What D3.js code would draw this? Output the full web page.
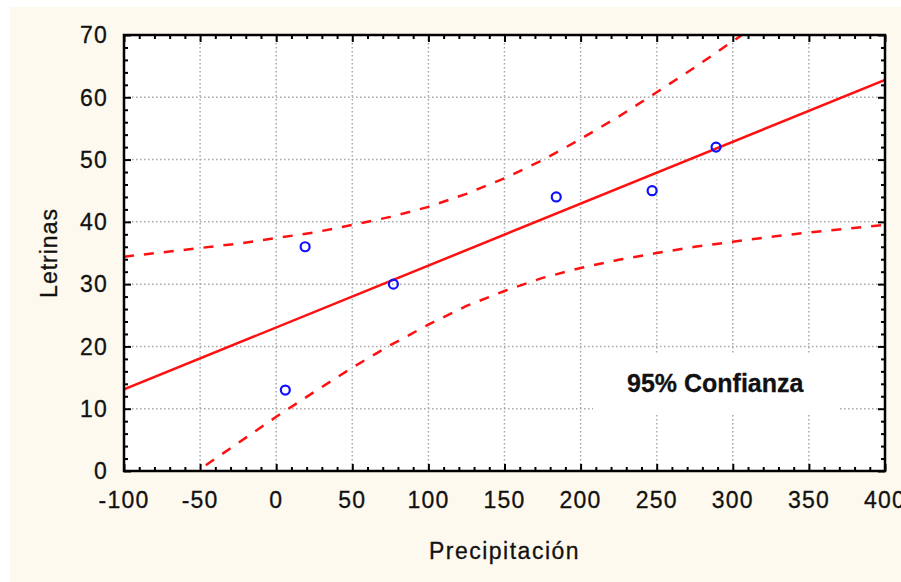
<!DOCTYPE html>
<html>
<head>
<meta charset="utf-8">
<script src="https://cdn.jsdelivr.net/npm/d3@7"></script>
<style>
    body { margin: 0; background: #ffffff; }
    svg { display: block; }
    text { font-family: "Liberation Sans", Arial, sans-serif; fill: #111111; }
</style>
</head>
<body>
<div id="chart"></div>
<script>
// Observed points
const precipitacion = [6, 19, 77, 184, 247, 289];
const letrinas = [13, 36, 30, 44, 45, 52];

// Fitted line, read at the plot edges
const fitX = [-100, 400];
const fitY = [13.1, 62.8];

// 95% band, read along x
const bandX = [-100, -75, -50, -25, 0, 25, 50, 75, 100, 125, 150, 175, 200, 225, 250, 275, 300, 325, 350, 375, 400];
const bandUpper = [34.4, 35.1, 35.8, 36.5, 37.4, 38.3, 39.5, 40.8, 42.4, 44.5, 47.0, 49.9, 53.3, 56.9, 60.8, 64.8, 69.0, 73.2, 77.5, 81.8, 86.1];
const bandLower = [-8.3, -3.9, 0.3, 4.5, 8.7, 12.7, 16.6, 20.2, 23.5, 26.5, 28.9, 31.0, 32.6, 33.9, 35.0, 36.0, 36.8, 37.6, 38.3, 38.9, 39.5];

const xTicks = [-100, -50, 0, 50, 100, 150, 200, 250, 300, 350, 400];
const yTicks = [0, 10, 20, 30, 40, 50, 60, 70];

const width = 901;
const height = 582;
const margin = { top: 35, right: 16, bottom: 111, left: 124 };
const innerW = width - margin.left - margin.right;
const innerH = height - margin.top - margin.bottom;

const svg = d3.select("#chart")
    .append("svg")
    .attr("width", width)
    .attr("height", height);

// cream background
svg.append("rect")
    .attr("x", 10).attr("y", 7)
    .attr("width", width - 10).attr("height", height - 7)
    .attr("fill", "#fdf9ef");

const g = svg.append("g")
    .attr("transform", `translate(${margin.left},${margin.top})`);

const xScale = d3.scaleLinear().domain([-100, 400]).range([0, innerW]);
const yScale = d3.scaleLinear().domain([0, 70]).range([innerH, 0]);

// plot area
g.append("rect")
    .attr("width", innerW).attr("height", innerH)
    .attr("fill", "#ffffff");

g.append("clipPath").attr("id", "clip")
    .append("rect").attr("width", innerW).attr("height", innerH);

// grid
g.append("g")
    .selectAll("line")
    .data(xTicks.slice(1, -1))
    .enter().append("line")
    .attr("x1", d => xScale(d)).attr("x2", d => xScale(d))
    .attr("y1", 0).attr("y2", innerH)
    .attr("stroke", "#a8a8a8")
    .attr("stroke-width", 1.5)
    .attr("stroke-dasharray", "1.5,2.5");

g.append("g")
    .selectAll("line")
    .data(yTicks.slice(1, -1))
    .enter().append("line")
    .attr("x1", 0).attr("x2", innerW)
    .attr("y1", d => yScale(d)).attr("y2", d => yScale(d))
    .attr("stroke", "#a8a8a8")
    .attr("stroke-width", 1.5)
    .attr("stroke-dasharray", "1.5,2.5");

// label box covers the grid
g.append("rect")
    .attr("x", 469).attr("y", 320)
    .attr("width", 247).attr("height", 60)
    .attr("fill", "#ffffff");

g.append("text")
    .attr("x", 503).attr("y", 357)
    .attr("font-size", 25)
    .attr("font-weight", "bold")
    .attr("stroke", "#111")
    .attr("stroke-width", 0.3)
    .text("95% Confianza");

// lines
const plot = g.append("g").attr("clip-path", "url(#clip)");

const bandLine = d3.line()
    .x((d, i) => xScale(bandX[i]))
    .y(d => yScale(d));

plot.append("path")
    .datum(bandUpper)
    .attr("fill", "none")
    .attr("stroke", "#ff1010")
    .attr("stroke-width", 2.5)
    .attr("stroke-dasharray", "10,10")
    .attr("d", bandLine);

plot.append("path")
    .datum(bandLower)
    .attr("fill", "none")
    .attr("stroke", "#ff1010")
    .attr("stroke-width", 2.5)
    .attr("stroke-dasharray", "10,10")
    .attr("d", bandLine);

plot.append("path")
    .datum(fitY)
    .attr("fill", "none")
    .attr("stroke", "#ff1010")
    .attr("stroke-width", 2.5)
    .attr("d", d3.line().x((d, i) => xScale(fitX[i])).y(d => yScale(d)));

// points
g.selectAll(".pt")
    .data(precipitacion)
    .enter().append("circle")
    .attr("class", "pt")
    .attr("cx", d => xScale(d))
    .attr("cy", (d, i) => yScale(letrinas[i]))
    .attr("r", 4.5)
    .attr("fill", "none")
    .attr("stroke", "#1010ff")
    .attr("stroke-width", 2.2);

// ticks on all four sides, pointing inward
const xMinor = d3.range(-100, 401, 10).filter(d => d % 50 !== 0);
const yMinor = d3.range(0, 71, 2).filter(d => d % 10 !== 0);

function tickAxis(axis, scale, major, minor, transform) {
    g.append("g")
        .attr("transform", transform)
        .call(axis(scale).tickValues(minor).tickSize(4).tickFormat(""))
        .call(a => a.select(".domain").remove())
        .selectAll("line").attr("stroke", "#000").attr("stroke-width", 2);
    g.append("g")
        .attr("transform", transform)
        .call(axis(scale).tickValues(major).tickSize(7).tickFormat(""))
        .call(a => a.select(".domain").remove())
        .selectAll("line").attr("stroke", "#000").attr("stroke-width", 2);
}

tickAxis(d3.axisTop, xScale, xTicks, xMinor, `translate(0,${innerH})`);
tickAxis(d3.axisBottom, xScale, xTicks, xMinor, "translate(0,0)");
tickAxis(d3.axisRight, yScale, yTicks, yMinor, "translate(0,0)");
tickAxis(d3.axisLeft, yScale, yTicks, yMinor, `translate(${innerW},0)`);

// frame
g.append("rect")
    .attr("width", innerW).attr("height", innerH)
    .attr("fill", "none")
    .attr("stroke", "#000")
    .attr("stroke-width", 2.5);

// tick labels
g.append("g")
    .selectAll("text")
    .data(xTicks)
    .enter().append("text")
    .attr("x", d => xScale(d))
    .attr("y", innerH + 37)
    .attr("text-anchor", "middle")
    .attr("font-size", 23)
    .attr("letter-spacing", 1.2)
    .attr("stroke", "#111")
    .attr("stroke-width", 0.3)
    .text(d => d);

g.append("g")
    .selectAll("text")
    .data(yTicks)
    .enter().append("text")
    .attr("x", -16)
    .attr("y", d => yScale(d))
    .attr("dy", "0.36em")
    .attr("text-anchor", "end")
    .attr("font-size", 23)
    .attr("letter-spacing", 1.2)
    .attr("stroke", "#111")
    .attr("stroke-width", 0.3)
    .text(d => d);

// axis titles
svg.append("text")
    .attr("x", margin.left + innerW / 2)
    .attr("y", 559)
    .attr("text-anchor", "middle")
    .attr("font-size", 23)
    .attr("letter-spacing", 1.5)
    .attr("stroke", "#111")
    .attr("stroke-width", 0.3)
    .text("Precipitación");

svg.append("text")
    .attr("transform", `translate(57,${margin.top + innerH / 2}) rotate(-90)`)
    .attr("text-anchor", "middle")
    .attr("font-size", 23)
    .attr("letter-spacing", 1)
    .attr("stroke", "#111")
    .attr("stroke-width", 0.3)
    .text("Letrinas");
</script>
</body>
</html>
